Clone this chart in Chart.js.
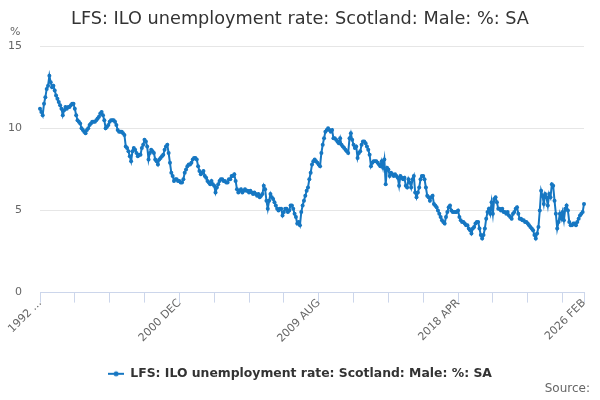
<!DOCTYPE html>
<html>
<head>
<meta charset="utf-8">
<script src="https://cdn.jsdelivr.net/npm/chart.js@4/dist/chart.umd.min.js"></script>
<style>
  html, body { margin: 0; padding: 0; background: #fff; }
</style>
</head>
<body>
<canvas id="lfs" width="600" height="400"></canvas>
<script>
// months of the series, first point 1992 APR, last 2026 FEB
const MONTHS = ['JAN', 'FEB', 'MAR', 'APR', 'MAY', 'JUN', 'JUL', 'AUG', 'SEP', 'OCT', 'NOV', 'DEC'];
const START_YEAR = 1992, START_MONTH = 3;

// unemployment rate, %, one value per month
const rate = [
  11.2, 11.0, 10.8, 11.5, 11.9, 12.4, 12.6, 13.2, 12.8, 12.5,
  12.6, 12.3, 12.0, 11.8, 11.6, 11.4, 11.2, 10.8, 11.1, 11.3,
  11.2, 11.3, 11.3, 11.4, 11.5, 11.5, 11.2, 10.8, 10.5, 10.4,
  10.3, 10.0, 9.9, 9.8, 9.7, 9.9, 10.0, 10.2, 10.3, 10.4,
  10.4, 10.4, 10.5, 10.6, 10.7, 10.9, 11.0, 10.8, 10.5, 10.0,
  10.1, 10.2, 10.4, 10.5, 10.5, 10.5, 10.4, 10.2, 9.9, 9.8,
  9.8, 9.8, 9.7, 9.6, 8.9, 8.8, 8.6, 8.3, 8.0, 8.6,
  8.8, 8.7, 8.5, 8.3, 8.4, 8.4, 8.8, 9.0, 9.3, 9.2,
  8.9, 8.1, 8.5, 8.7, 8.6, 8.5, 8.1, 8.0, 7.8, 8.1,
  8.2, 8.3, 8.4, 8.7, 8.9, 9.0, 8.5, 7.9, 7.3, 7.1,
  6.8, 6.9, 6.9, 6.8, 6.8, 6.7, 6.7, 6.9, 7.3, 7.5,
  7.7, 7.8, 7.8, 7.9, 8.1, 8.2, 8.2, 8.1, 7.7, 7.4,
  7.2, 7.3, 7.4, 7.1, 7.0, 6.8, 6.7, 6.6, 6.8, 6.6,
  6.5, 6.1, 6.4, 6.6, 6.8, 6.9, 6.9, 6.8, 6.8, 6.7,
  6.7, 6.9, 6.9, 7.1, 7.1, 7.2, 6.8, 6.3, 6.1, 6.2,
  6.3, 6.1, 6.2, 6.3, 6.2, 6.2, 6.1, 6.2, 6.1, 6.0,
  6.1, 6.0, 5.9, 6.0, 5.8, 5.9, 6.0, 6.5, 6.3, 5.6,
  5.1, 5.6, 6.0, 5.8, 5.7, 5.5, 5.3, 5.1, 5.0, 5.1,
  5.1, 4.7, 4.9, 5.1, 5.1, 4.9, 5.0, 5.3, 5.3, 5.1,
  4.8, 4.6, 4.2, 4.3, 4.1, 4.9, 5.3, 5.6, 5.9, 6.2,
  6.4, 6.9, 7.3, 7.8, 8.0, 8.1, 8.0, 7.9, 7.8, 7.7,
  8.5, 9.0, 9.4, 9.8, 9.9, 10.0, 9.9, 9.8, 9.9, 9.4,
  9.4, 9.3, 9.2, 9.1, 9.4, 9.0, 8.9, 8.8, 8.7, 8.6,
  8.5, 9.4, 9.7, 9.3, 9.0, 8.8, 8.9, 8.2, 8.5, 8.6,
  9.0, 9.2, 9.2, 9.1, 8.9, 8.7, 8.4, 7.7, 7.9, 8.0,
  8.0, 8.0, 7.9, 7.8, 7.7, 8.0, 7.6, 8.1, 6.6, 7.6,
  7.5, 7.1, 7.3, 7.2, 7.1, 7.2, 7.1, 7.0, 6.5, 7.1,
  7.0, 6.9, 7.0, 6.5, 6.4, 6.9, 6.7, 6.4, 6.9, 7.1,
  6.1, 5.8, 6.1, 6.4, 6.9, 7.1, 7.1, 6.9, 6.4, 5.9,
  5.8, 5.6, 5.8, 5.9, 5.4, 5.3, 5.2, 5.0, 4.8, 4.6,
  4.4, 4.3, 4.2, 4.6, 4.9, 5.2, 5.3, 5.0, 4.9, 4.9,
  4.9, 4.9, 5.0, 4.6, 4.4, 4.3, 4.3, 4.2, 4.1, 4.1,
  3.9, 3.8, 3.6, 3.9, 4.0, 4.2, 4.3, 4.3, 3.9, 3.5,
  3.3, 3.5, 3.9, 4.5, 4.9, 5.1, 4.8, 5.5, 4.8, 5.7,
  5.8, 5.5, 5.1, 5.1, 5.0, 5.1, 4.9, 4.9, 4.8, 4.9,
  4.7, 4.6, 4.5, 4.8, 4.9, 5.1, 5.2, 4.8, 4.5, 4.5,
  4.4, 4.4, 4.3, 4.3, 4.2, 4.1, 4.0, 3.9, 3.8, 3.5,
  3.3, 3.6, 4.0, 5.0, 6.2, 5.9, 5.4, 6.0, 5.8, 5.3,
  6.0, 5.8, 6.6, 6.5, 5.6, 4.8, 3.9, 4.3, 4.8, 4.5,
  4.9, 4.4, 5.1, 5.3, 5.0, 4.3, 4.1, 4.1, 4.2, 4.2,
  4.1, 4.3, 4.5, 4.7, 4.8, 4.9, 5.4
];

const yTicks = [0, 5, 10, 15];
const TICK_EVERY = 26;      // tick marks on the date axis
const LABEL_EVERY = 104;    // labelled ticks

// month labels, e.g. "2000 DEC"
const labels = [];
for (let i = 0; i < rate.length; i++) {
  const m = START_MONTH + i;
  labels.push((START_YEAR + Math.floor(m / 12)) + ' ' + MONTHS[m % 12]);
}
const last = labels.length - 1;

const BLUE = '#1677c2';
const FONT = '"DejaVu Sans", sans-serif';

// legend symbol: short line with a dot
const sym = document.createElement('canvas');
sym.width = 16; sym.height = 8;
const sc = sym.getContext('2d');
sc.strokeStyle = BLUE; sc.lineWidth = 2;
sc.beginPath(); sc.moveTo(0, 4); sc.lineTo(16, 4); sc.stroke();
sc.fillStyle = BLUE;
sc.beginPath(); sc.arc(8, 4, 2.5, 0, Math.PI * 2); sc.fill();

const extraText = {
  id: 'extraText',
  afterDraw(chart) {
    const c = chart.ctx;
    c.save();
    c.fillStyle = '#666';
    c.font = '11px ' + FONT;
    c.textAlign = 'left';
    c.textBaseline = 'middle';
    c.fillText('%', 10, 32);
    c.font = '12px ' + FONT;
    c.textAlign = 'right';
    c.fillText('Source:', 590, 389);
    c.restore();
  }
};

const isTick = i => i % TICK_EVERY === 0 || i === last;

new Chart(document.getElementById('lfs'), {
  type: 'line',
  data: {
    labels: labels,
    datasets: [{
      label: 'LFS: ILO unemployment rate: Scotland: Male: %: SA',
      data: rate,
      borderColor: BLUE,
      backgroundColor: BLUE,
      borderWidth: 2,
      pointRadius: 2,
      pointBorderWidth: 0,
      pointHoverRadius: 3,
      tension: 0
    }]
  },
  options: {
    responsive: false,
    animation: false,
    layout: { padding: { top: 1, left: 8, right: 8, bottom: 10 } },
    scales: {
      x: {
        offset: false,
        afterFit: axis => {
          axis.paddingLeft = 0;
          axis.paddingRight = 0;
          axis.height = 65;
        },
        grid: {
          drawOnChartArea: false,
          drawTicks: true,
          tickLength: 10,
          color: ctx => isTick(ctx.index) ? '#ccd6eb' : 'rgba(0,0,0,0)'
        },
        border: { display: true, color: '#ccd6eb' },
        ticks: {
          autoSkip: false,
          minRotation: 45,
          maxRotation: 45,
          padding: -6,
          color: '#666',
          font: { family: FONT, size: 11 },
          callback: function (value, index) {
            if (index === 0) return '1992 ...';
            if (index % LABEL_EVERY === 0 || index === last) return this.getLabelForValue(value);
            return '';
          }
        }
      },
      y: {
        min: yTicks[0],
        max: yTicks[yTicks.length - 1],
        afterBuildTicks: axis => { axis.ticks = yTicks.map(v => ({ value: v })); },
        afterFit: axis => { axis.width = 32; },
        grid: { color: '#e6e6e6', drawTicks: false },
        border: { display: false },
        ticks: {
          padding: 18,
          color: '#666',
          font: { family: FONT, size: 11 }
        }
      },
      // empty right-hand strip so the plot stops short of the edge
      spacer: {
        type: 'linear',
        position: 'right',
        display: true,
        afterFit: axis => { axis.width = 8; },
        grid: { display: false },
        border: { display: false },
        ticks: { display: false }
      }
    },
    plugins: {
      title: {
        display: true,
        text: 'LFS: ILO unemployment rate: Scotland: Male: %: SA',
        color: '#333',
        font: { family: FONT, size: 17.7, weight: 'normal' },
        padding: { top: 8, bottom: 16 }
      },
      legend: {
        position: 'bottom',
        labels: {
          usePointStyle: true,
          pointStyle: sym,
          pointStyleWidth: 16,
          color: '#333',
          font: { family: FONT, size: 12.4, weight: 'bold' },
          padding: 10
        }
      },
      tooltip: { enabled: false }
    }
  },
  plugins: [extraText]
});
</script>
</body>
</html>
